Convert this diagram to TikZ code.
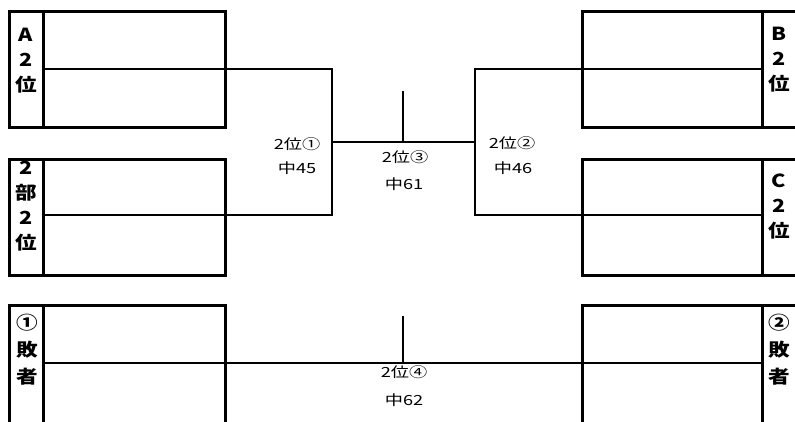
\documentclass[tikz,border=0pt]{standalone}
\usepackage{fontspec}
\newfontfamily\jp{Noto Sans CJK JP}
\begin{document}
\begin{tikzpicture}[x=1pt,y=-1pt,
waku/.style={line width=3pt},
sen/.style={line width=1.8pt},
lbl/.style={font=\jp\bfseries\fontsize{18}{25}\selectfont,align=center,xscale=1.2,inner sep=0pt},
lblb/.style={lbl,font=\jp\bfseries\fontsize{18}{27}\selectfont},
siai/.style={font=\jp\fontsize{14}{14}\selectfont,xscale=1.3,inner sep=0pt}]
\useasboundingbox (0,0) rectangle (795,421);
\coordinate (a1) at (43,69);
\coordinate (a2) at (332,69);
\coordinate (b1) at (43,215);
\coordinate (b2) at (332,215);
\coordinate (m1) at (332,142);
\coordinate (m2) at (475,142);
\coordinate (c1) at (762,69);
\coordinate (c2) at (475,69);
\coordinate (d1) at (762,215);
\coordinate (d2) at (475,215);
\coordinate (s3) at (403,91);
\coordinate (t3) at (403,142);
\coordinate (e1) at (43,363);
\coordinate (f1) at (762,363);
\coordinate (s4) at (403,316);
\coordinate (t4) at (403,363);
\foreach \y in {11,159}
{
\draw[waku] (9,\y) rectangle (225,\y+116);
\draw[waku] (43,\y) -- (43,\y+116);
\draw[waku] (795,\y) -- (582,\y) -- (582,\y+116) -- (795,\y+116);
\draw[waku] (762,\y) -- (762,\y+116);
}
\draw[waku] (9,425) -- (9,305) -- (225,305) -- (225,425);
\draw[waku] (43,305) -- (43,425);
\draw[waku] (795,305) -- (582,305) -- (582,425);
\draw[waku] (762,305) -- (762,425);
\draw[sen] (a1) -- (a2) -- (b2) -- (b1);
\draw[sen] (c1) -- (c2) -- (d2) -- (d1);
\draw[sen] (m1) -- (m2);
\draw[sen] (s3) -- (t3);
\draw[sen] (e1) -- (f1);
\draw[sen] (s4) -- (t4);
\node[lbl] (la) at (26,61) {A\\2\\位};
\node[lbl] (lb) at (26,206) {2\\部\\2\\位};
\node[lbl] (lc) at (779,60) {B\\2\\位};
\node[lbl] (ld) at (779,206) {C\\2\\位};
\node[lblb] (le) at (27,350) {①\\敗\\者};
\node[lblb] (lf) at (779,350) {②\\敗\\者};
\node[siai] (k1) at (297,144) {2位①};
\node[siai] (n1) at (297,168) {中45};
\node[siai] (k2) at (512,143) {2位②};
\node[siai] (n2) at (513,168) {中46};
\node[siai] (k3) at (405,157) {2位③};
\node[siai] (n3) at (404,184) {中61};
\node[siai] (k4) at (404,372) {2位④};
\node[siai] (n4) at (404,400) {中62};
\end{tikzpicture}
\end{document}
